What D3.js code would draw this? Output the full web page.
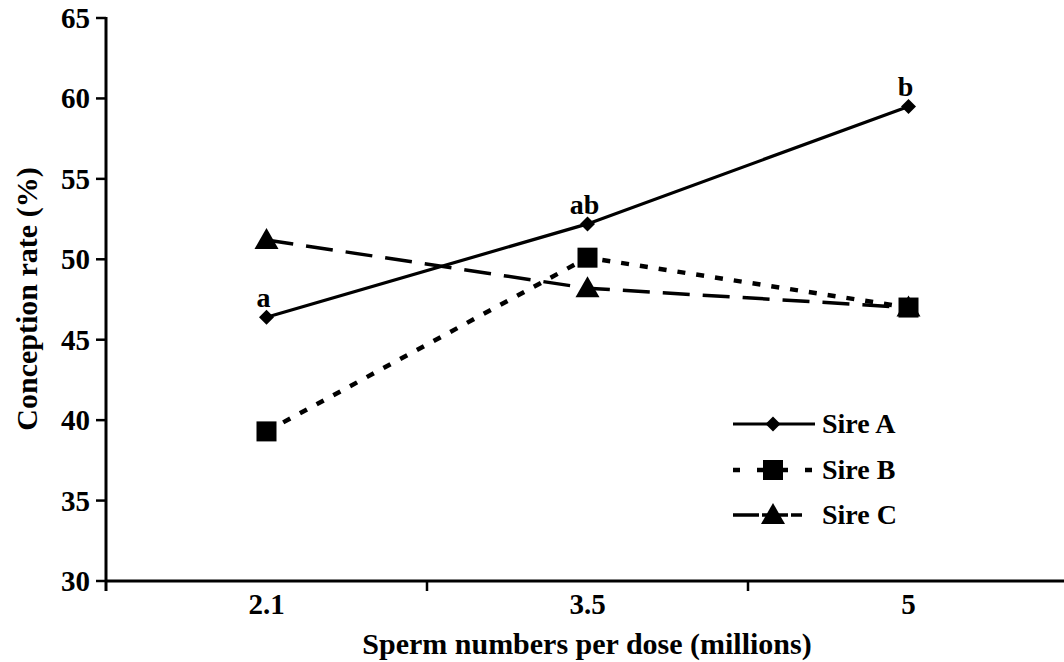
<!DOCTYPE html>
<html>
<head>
<meta charset="utf-8">
<script src="https://cdn.jsdelivr.net/npm/d3@7"></script>
<style>
  body { margin: 0; background: #fff; }
</style>
</head>
<body>
<div id="chart"></div>
<script>
const doses = ["2.1", "3.5", "5"];
const sireA = [46.4, 52.2, 59.5];
const sireB = [39.3, 50.1, 47.0];
const sireC = [51.2, 48.2, 47.0];
const sigLabels = ["a", "ab", "b"];
const yTicks = [30, 35, 40, 45, 50, 55, 60, 65];

const width = 1064;
const height = 662;
const font = "'Liberation Serif', 'Times New Roman', Times, serif";

const svg = d3.select("#chart")
  .append("svg")
  .attr("width", width)
  .attr("height", height)
  .attr("font-family", font)
  .attr("font-weight", "bold");

const x = d3.scaleBand().domain(doses).range([106, 1069]);
const y = d3.scaleLinear().domain([30, 65]).range([581, 18]);
const cx = d => x(d) + x.bandwidth() / 2;

// axes
svg.append("line")
  .attr("x1", 106).attr("x2", width)
  .attr("y1", y(30)).attr("y2", y(30))
  .attr("stroke", "#000").attr("stroke-width", 3);

svg.append("line")
  .attr("x1", 106).attr("x2", 106)
  .attr("y1", y(65) - 1).attr("y2", y(30) + 10)
  .attr("stroke", "#000").attr("stroke-width", 3);

// x ticks sit on the category boundaries
svg.selectAll(".xtick")
  .data(doses.slice(1))
  .join("line")
  .attr("x1", d => x(d)).attr("x2", d => x(d))
  .attr("y1", y(30)).attr("y2", y(30) + 10)
  .attr("stroke", "#000").attr("stroke-width", 2.5);

svg.selectAll(".xlab")
  .data(doses)
  .join("text")
  .attr("x", d => cx(d))
  .attr("y", 614)
  .attr("text-anchor", "middle")
  .attr("font-size", "29px")
  .text(d => d);

// y ticks
svg.selectAll(".ytick")
  .data(yTicks)
  .join("line")
  .attr("x1", 96).attr("x2", 106)
  .attr("y1", d => y(d)).attr("y2", d => y(d))
  .attr("stroke", "#000").attr("stroke-width", 2.5);

svg.selectAll(".ylab")
  .data(yTicks)
  .join("text")
  .attr("x", 90)
  .attr("y", d => y(d) + 10)
  .attr("text-anchor", "end")
  .attr("font-size", "29px")
  .text(d => d);

svg.append("text")
  .attr("x", 587)
  .attr("y", 654)
  .attr("text-anchor", "middle")
  .attr("font-size", "30px")
  .text("Sperm numbers per dose (millions)");

svg.append("text")
  .attr("transform", "translate(37, 299) rotate(-90)")
  .attr("text-anchor", "middle")
  .attr("font-size", "30px")
  .text("Conception rate (%)");

const line = d3.line().x((d, i) => cx(doses[i])).y(d => y(d));

const series = [
  { name: "Sire A", values: sireA, dash: null, legendDash: null, width: 3.2, marker: "diamond" },
  { name: "Sire B", values: sireB, dash: "8,11", legendDash: "7,17", width: 4.5, marker: "square" },
  { name: "Sire C", values: sireC, dash: "27,13", legendDash: "26,3", width: 3.5, marker: "triangle" }
];

function drawMarker(g, type, px, py) {
  if (type === "diamond") {
    g.append("path")
      .attr("d", `M${px},${py - 7.5}L${px + 7.5},${py}L${px},${py + 7.5}L${px - 7.5},${py}Z`)
      .attr("fill", "#000");
  } else if (type === "square") {
    g.append("rect")
      .attr("x", px - 10).attr("y", py - 10)
      .attr("width", 20).attr("height", 20)
      .attr("fill", "#000");
  } else {
    g.append("path")
      .attr("d", `M${px},${py - 12}L${px + 12},${py + 9}L${px - 12},${py + 9}Z`)
      .attr("fill", "#000");
  }
}

const marks = svg.append("g");
series.forEach(s => {
  marks.append("path")
    .datum(s.values)
    .attr("d", line)
    .attr("fill", "none")
    .attr("stroke", "#000")
    .attr("stroke-width", s.width)
    .attr("stroke-dasharray", s.dash);
});
series.slice().reverse().forEach(s => {
  s.values.forEach((v, i) => drawMarker(marks, s.marker, cx(doses[i]), y(v)));
});

// significance letters over Sire A
svg.selectAll(".sig")
  .data(sigLabels)
  .join("text")
  .attr("x", (d, i) => cx(doses[i]) - 3)
  .attr("y", (d, i) => y(sireA[i]) - 10)
  .attr("text-anchor", "middle")
  .attr("font-size", "28px")
  .text(d => d);

// legend
const legend = svg.append("g");
const legendY = [424, 470, 515];
series.forEach((s, i) => {
  const ly = legendY[i];
  legend.append("line")
    .attr("x1", 733).attr("x2", i === 2 ? 802 : 815)
    .attr("y1", ly).attr("y2", ly)
    .attr("stroke", "#000")
    .attr("stroke-width", s.width)
    .attr("stroke-dasharray", s.legendDash);
  drawMarker(legend, s.marker, 773, ly);
  legend.append("text")
    .attr("x", 822)
    .attr("y", ly + 9)
    .attr("font-size", "28px")
    .text(s.name);
});
</script>
</body>
</html>
